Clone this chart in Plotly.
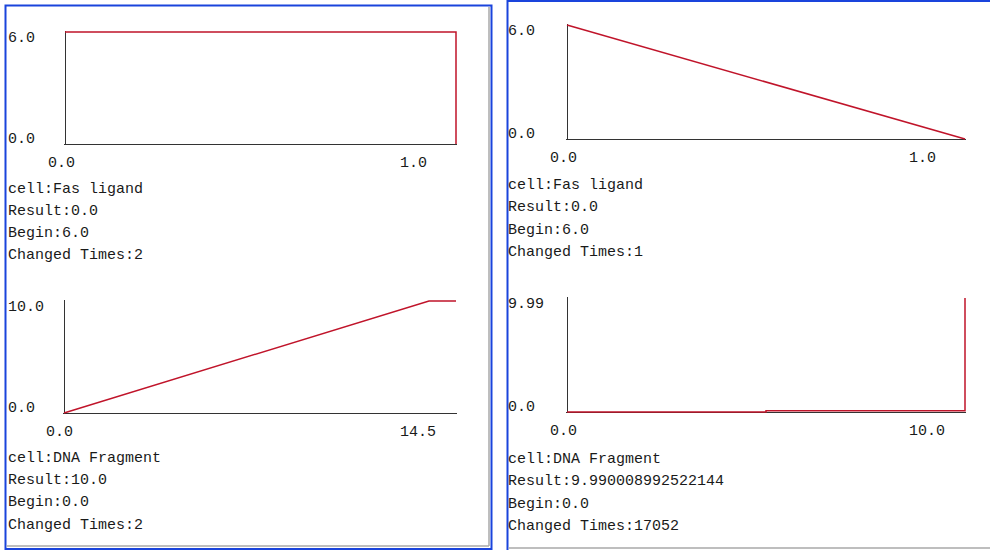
import plotly.graph_objects as go

# ---------------- data ----------------
tl_time = [0.0, 1.0, 1.0]
tl_value = [6.0, 6.0, 0.0]
tl_info = ["cell:Fas ligand", "Result:0.0", "Begin:6.0", "Changed Times:2"]

bl_time = [0.0, 13.5, 14.5]
bl_value = [0.0, 10.0, 10.0]
bl_info = ["cell:DNA Fragment", "Result:10.0", "Begin:0.0", "Changed Times:2"]

tr_time = [0.0, 1.0]
tr_value = [6.0, 0.0]
tr_info = ["cell:Fas ligand", "Result:0.0", "Begin:6.0", "Changed Times:1"]

br_time = [0.0, 5.0, 5.0, 10.0, 10.0]
br_value = [0.0, 0.0, 0.1, 0.1, 9.99]
br_info = ["cell:DNA Fragment", "Result:9.990008992522144", "Begin:0.0", "Changed Times:17052"]

tl_ylabels = ["0.0", "6.0"]
bl_ylabels = ["0.0", "10.0"]
tr_ylabels = ["0.0", "6.0"]
br_ylabels = ["0.0", "9.99"]
tl_xlabels = ["0.0", "1.0"]
bl_xlabels = ["0.0", "14.5"]
tr_xlabels = ["0.0", "1.0"]
br_xlabels = ["0.0", "10.0"]

# ---------------- layout helpers ----------------
W, H = 990, 550
PAD = 1
FONT = "Liberation Mono"
RED = "#c0142a"
AXIS = "#333333"
TXT = "#1a1a1a"


def px(x):
    return x / W


def py(y):
    return 1 - y / H


panels = [
    ("1", tl_time, tl_value, tl_info, tl_ylabels, tl_xlabels, (65, 456, 32, 144), 7.5, [189, 211.5, 233.5, 255.5]),
    ("2", bl_time, bl_value, bl_info, bl_ylabels, bl_xlabels, (64, 456, 301, 413), 7.5, [458.5, 480, 502.5, 525]),
    ("3", tr_time, tr_value, tr_info, tr_ylabels, tr_xlabels, (567, 965, 25, 139), 508, [185, 207.5, 230, 253]),
    ("4", br_time, br_value, br_info, br_ylabels, br_xlabels, (567, 965, 298, 412), 508, [460, 481.5, 504, 526.5]),
]

fig = go.Figure()
annotations = []
layout_axes = {}

for name, t, v, info, ylab, xlab, (x0, x1, yt, yb), tx, lines in panels:
    xmax = max(t)
    ymax = max(v)
    ux = xmax / (x1 - x0)
    uy = ymax / (yb - yt)
    xa = "xaxis" if name == "1" else "xaxis" + name
    ya = "yaxis" if name == "1" else "yaxis" + name
    xr = "x" if name == "1" else "x" + name
    yr = "y" if name == "1" else "y" + name

    fig.add_trace(go.Scatter(
        x=t, y=v, mode="lines", xaxis=xr, yaxis=yr,
        line=dict(color=RED, width=1.5), hoverinfo="skip", showlegend=False,
    ))

    common = dict(showgrid=False, showline=False, showticklabels=False, ticks="",
                  zeroline=True, zerolinecolor=AXIS, zerolinewidth=1.3, fixedrange=True)
    layout_axes[xa] = dict(domain=[px(x0 - PAD), px(x1 + PAD)],
                           range=[-PAD * ux, xmax + PAD * ux], anchor=yr, **common)
    layout_axes[ya] = dict(domain=[py(yb + PAD), py(yt - PAD)],
                           range=[-PAD * uy, ymax + PAD * uy], anchor=xr, **common)

    f = dict(family=FONT, size=15, color=TXT)
    base = dict(showarrow=False, font=f, borderpad=0, borderwidth=0)
    annotations.append(dict(x=px(tx), xref="paper", y=ymax, yref=yr, text=ylab[1],
                            xanchor="left", yanchor="top", yshift=2, **base))
    annotations.append(dict(x=px(tx), xref="paper", y=0, yref=yr, text=ylab[0],
                            xanchor="left", yanchor="bottom", yshift=-4, **base))
    annotations.append(dict(x=0, xref=xr, y=0, yref=yr, text=xlab[0], xanchor="center",
                            yanchor="middle", xshift=-4, yshift=-19, **base))
    annotations.append(dict(x=xmax, xref=xr, y=0, yref=yr, text=xlab[1], xanchor="left",
                            yanchor="middle", xshift=-56, yshift=-19, **base))
    for s, ly in zip(info, lines):
        annotations.append(dict(x=px(tx), xref="paper", y=py(ly), yref="paper", text=s,
                                xanchor="left", yanchor="middle", **base))

BLUE = "#1a44dc"
GRAY = "#a9a9a9"
shapes = [
    dict(type="rect", xref="paper", yref="paper", x0=px(5.5), x1=px(491.5), y0=py(549), y1=py(5.5),
         line=dict(color=BLUE, width=2)),
    dict(type="line", xref="paper", yref="paper", x0=px(489), x1=px(489), y0=py(546), y1=py(7),
         line=dict(color=GRAY, width=1.5)),
    dict(type="line", xref="paper", yref="paper", x0=px(6.5), x1=px(489), y0=py(546), y1=py(546),
         line=dict(color=GRAY, width=1.5)),
    dict(type="line", xref="paper", yref="paper", x0=px(507.5), x1=px(507.5), y0=py(550), y1=py(0),
         line=dict(color=BLUE, width=2)),
    dict(type="line", xref="paper", yref="paper", x0=px(507), x1=px(990), y0=py(1), y1=py(1),
         line=dict(color=BLUE, width=2)),
    dict(type="line", xref="paper", yref="paper", x0=px(508.5), x1=px(990), y0=py(548), y1=py(548),
         line=dict(color=GRAY, width=1.5)),
]

fig.update_layout(
    width=W, height=H,
    margin=dict(l=0, r=0, t=0, b=0),
    paper_bgcolor="white", plot_bgcolor="rgba(0,0,0,0)",
    showlegend=False,
    annotations=annotations,
    shapes=shapes,
    **layout_axes,
)

fig.write_html(
    "out.html",
    config={"displayModeBar": False},
    post_script="document.body.style.margin='0';document.body.style.padding='0';"
                "document.body.style.overflow='hidden';",
)
